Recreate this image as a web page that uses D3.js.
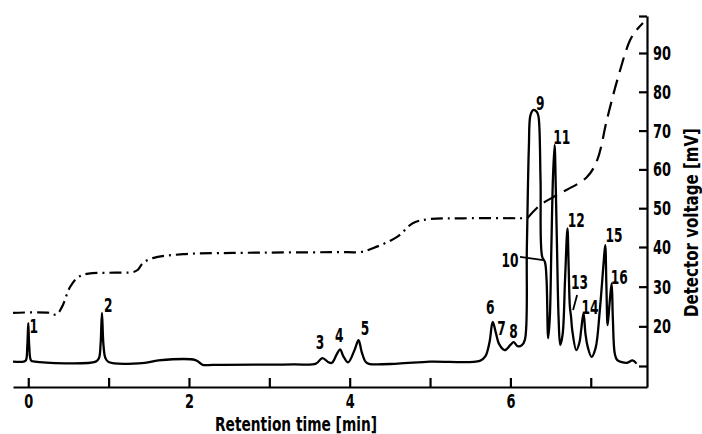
<!DOCTYPE html>
<html>
<head>
<meta charset="utf-8">
<script src="https://cdn.jsdelivr.net/npm/d3@7"></script>
<style>
body{margin:0;background:#fff;}
text{font-family:"DejaVu Sans Condensed","DejaVu Sans",sans-serif;font-weight:bold;fill:#000;}
</style>
</head>
<body>
<script>
var w=702,h=434;

// detector signal [time min, mV]
var signal=[[-0.19,11.1],[-0.06,11.1],[-0.03,11.4],[-0.012,15],[0,20.8],[0.012,15],[0.035,11.4],[0.08,11.1],
  [0.84,11.1],[0.88,12],[0.90,15.5],[0.917,23.4],[0.935,15.5],[0.96,12],[1.0,11.0],
  [1.45,10.8],[1.62,11.4],[2.08,11.5],[2.17,10.3],[2.3,10.3],[3.3,10.4],[3.58,10.6],
  [3.66,12.0],[3.74,10.9],[3.78,10.8],[3.84,13],[3.88,14.2],[3.92,12.5],[3.98,10.9],[4.06,14],[4.11,16.5],[4.15,13.5],[4.2,11],[4.25,10.5],
  [4.6,10.6],[5.0,11.1],[5.62,11.3],[5.69,12.5],
  [5.74,16],[5.78,21.1],[5.82,18.3],[5.86,15.5],[5.93,14.0],[6.0,15.3],[6.04,16.0],[6.09,15.0],[6.14,15.2],
  [6.18,16.6],[6.205,40],[6.23,65.8],[6.25,74.0],[6.285,75.3],[6.33,74.8],[6.35,73.6],[6.375,57.3],[6.395,37.6],
  [6.43,36.2],[6.45,31.7],[6.47,17.0],[6.49,22],[6.51,40],[6.53,58],[6.55,66.3],[6.565,55],[6.58,40],[6.60,22],[6.62,15.3],
  [6.65,18],[6.68,31.7],[6.71,44.8],[6.725,35],[6.74,25],[6.755,22.4],[6.77,19],[6.82,14.0],
  [6.86,16],[6.88,19],[6.91,23.3],[6.935,18],[6.96,15],[7.01,12.3],
  [7.06,14.5],[7.11,23.4],[7.16,36],[7.18,40.5],[7.195,30],[7.21,20.3],[7.235,26],[7.26,30.8],[7.275,22],[7.3,13],
  [7.33,11.5],[7.45,10.8],[7.52,11.4],[7.57,10.6]];

// dashed gradient trace [time min, mV]
var gradient=[[-0.19,23.4],[0.27,23.4],[0.35,22.9],[0.42,24.9],[0.52,29.9],[0.62,32.4],[0.75,33.3],[1.0,33.5],
  [1.31,33.7],[1.36,34.2],[1.43,36.0],[1.55,37.2],[1.93,38.2],[2.55,38.5],[3.97,38.7],[4.13,38.7],[4.29,39.7],
  [4.59,42.6],[4.79,46.2],[5.0,47.2],[5.41,47.4],[6.21,47.4],[6.37,50.8],[6.58,53.4],[6.95,58.0],[7.08,62.4],
  [7.20,72.7],[7.33,83.0],[7.49,93.5],[7.57,96.2],[7.65,98.1]];

// peak numbers and where they sit [label, time, mV]
var peaks=[["1",0.068,20.2],["2",0.995,25.4],["3",3.63,16.05],["4",3.87,17.8],["5",4.19,19.6],
  ["6",5.75,24.9],["7",5.89,19.6],["8",6.04,18.8],["9",6.37,77.1],["10",5.995,36.7],["11",6.64,68.4],
  ["12",6.82,47.0],["13",6.86,31.2],["14",6.99,24.9],["15",7.29,43.1],["16",7.355,32.4]];
// leader lines for 10 and 13
var leaders=[[[6.12,37.5],[6.41,36.7]],[[6.78,24.1],[6.83,27.9]]];

var xTicks=[0,1,2,3,4,5,6,7];
var yTicks=[10,20,30,40,50,60,70,80,90,100];

var svg=d3.select('body').append('svg').attr('width',w).attr('height',h);

var x=d3.scaleLinear().domain([-0.19,7.7]).range([13,647]);
var y=d3.scaleLinear().domain([4.7,10,40,90,100]).range([387,366,247,53,16]);

var line=d3.line().x(function(d){return x(d[0]);}).y(function(d){return y(d[1]);}).curve(d3.curveCatmullRom.alpha(0.5));

// axes
var xa=svg.append('g').attr('transform','translate(0,387)')
  .call(d3.axisBottom(x).tickValues(xTicks).tickSizeInner(-9).tickSizeOuter(0).tickPadding(8)
    .tickFormat(function(d){return d%2==0?d:'';}));
var ya=svg.append('g').attr('transform','translate(647,0)')
  .call(d3.axisRight(y).tickValues(yTicks).tickSizeInner(-8).tickSizeOuter(0).tickPadding(6)
    .tickFormat(function(d){return (d>=20&&d<=90)?d:'';}));
[xa,ya].forEach(function(g){
  g.selectAll('path,line').attr('stroke','#000').attr('stroke-width',2.2);
  g.selectAll('text').filter(function(){return this.textContent.length>0;})
    .style('font-size','20px').style('font-family','"DejaVu Sans Condensed",sans-serif')
    .style('font-weight','bold')
    .attr('textLength',function(){return this.textContent.length*9;}).attr('lengthAdjust','spacingAndGlyphs');
});
xa.selectAll('text').attr('dy','0.35em').attr('y',14);

svg.append('text').text('Retention time [min]').attr('x',215).attr('y',431)
  .attr('textLength',162).attr('lengthAdjust','spacingAndGlyphs').style('font-size','19px');
svg.append('text').text('Detector voltage [mV]')
  .attr('transform','translate(698,317) rotate(-90)')
  .attr('textLength',189).attr('lengthAdjust','spacingAndGlyphs').style('font-size','19px');

// gradient (dashed)
svg.append('path').datum(gradient.filter(function(d){return d[0]<=6.21;}))
  .attr('d',line).attr('fill','none').attr('stroke','#000').attr('stroke-width',2.2)
  .attr('stroke-dasharray','12,5,2,5');
svg.append('path').datum(gradient.filter(function(d){return d[0]>=6.21;}))
  .attr('d',line).attr('fill','none').attr('stroke','#000').attr('stroke-width',2.2)
  .attr('stroke-dasharray','15,8');

// signal
svg.append('path').datum(signal).attr('d',line).attr('fill','none')
  .attr('stroke','#000').attr('stroke-width',2.3).attr('stroke-linejoin','round');

svg.selectAll('.leader').data(leaders).enter().append('path').attr('class','leader')
  .attr('d',d3.line().x(function(d){return x(d[0]);}).y(function(d){return y(d[1]);}))
  .attr('stroke','#000').attr('stroke-width',1.8).attr('fill','none');

svg.selectAll('.pk').data(peaks).enter().append('text').attr('class','pk')
  .text(function(d){return d[0];})
  .attr('x',function(d){return x(d[1])-d[0].length*4.25;}).attr('y',function(d){return y(d[2]);})
  .attr('dy','0.35em').attr('textLength',function(d){return d[0].length*8.5;})
  .attr('lengthAdjust','spacingAndGlyphs').style('font-size','20px');
</script>
</body>
</html>
